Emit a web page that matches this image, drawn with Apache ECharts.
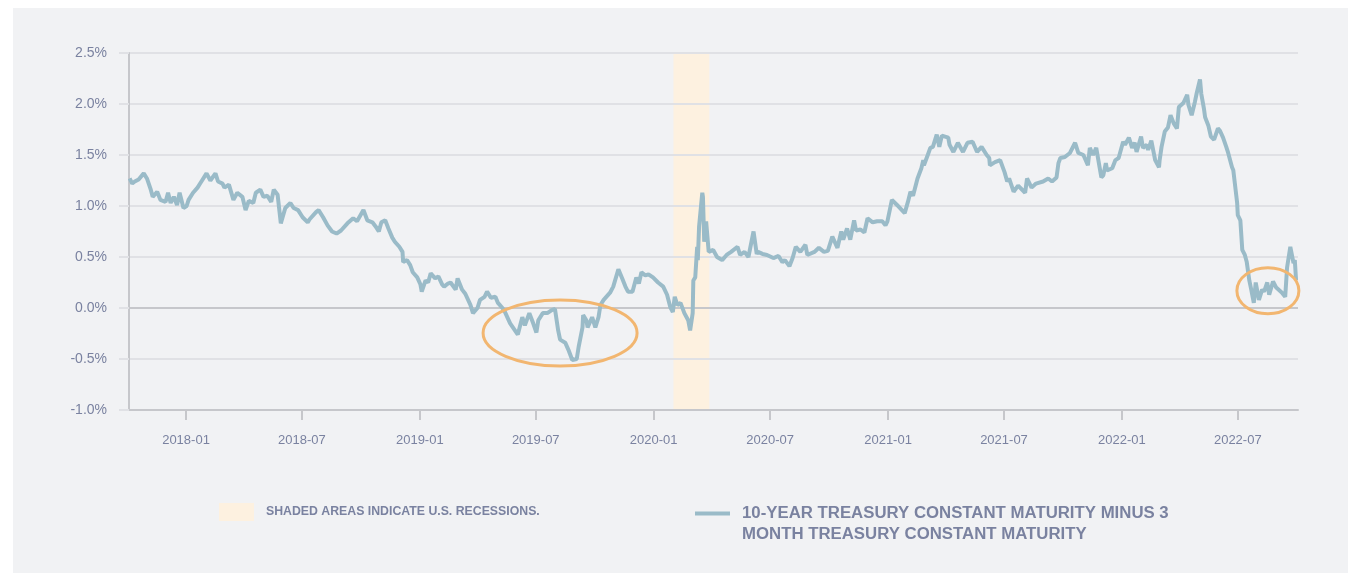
<!DOCTYPE html>
<html>
<head>
<meta charset="utf-8">
<script src="https://cdn.jsdelivr.net/npm/echarts@6/dist/echarts.min.js"></script>
<style>
html,body{margin:0;padding:0;background:#fff;}
#chart{position:absolute;left:13px;top:8px;width:1335px;height:565px;background:#f1f2f4;}
</style>
</head>
<body>
<div id="chart"></div>
<script>
// 10年期减3个月国债利差(%)
var seriesName='10-YEAR TREASURY CONSTANT MATURITY MINUS 3\nMONTH TREASURY CONSTANT MATURITY';
var recessionName='SHADED AREAS INDICATE U.S. RECESSIONS.';

var obsDates=[
 '2017-10-05','2017-10-09','2017-10-13','2017-10-19','2017-10-27','2017-11-01','2017-11-07','2017-11-10','2017-11-17','2017-11-22','2017-11-30','2017-12-04','2017-12-08','2017-12-13','2017-12-18','2017-12-22','2017-12-28',
 '2018-01-02','2018-01-05','2018-01-12','2018-01-19','2018-01-23','2018-01-26','2018-02-02','2018-02-08','2018-02-16','2018-02-20','2018-02-27','2018-03-02','2018-03-09','2018-03-16','2018-03-22','2018-03-30',
 '2018-04-04','2018-04-09','2018-04-16','2018-04-20','2018-04-27','2018-05-02','2018-05-08','2018-05-14','2018-05-18','2018-05-24','2018-05-29','2018-06-05','2018-06-13','2018-06-18','2018-06-25',
 '2018-07-02','2018-07-10','2018-07-13','2018-07-23','2018-07-27','2018-08-03','2018-08-10','2018-08-17','2018-08-24','2018-08-31','2018-09-10','2018-09-19','2018-09-25','2018-09-28',
 '2018-10-05','2018-10-11','2018-10-19','2018-10-24','2018-10-29','2018-11-02','2018-11-08','2018-11-13','2018-11-19','2018-11-23','2018-11-30','2018-12-05','2018-12-06','2018-12-12','2018-12-17','2018-12-21','2018-12-28',
 '2019-01-02','2019-01-04','2019-01-10','2019-01-14','2019-01-18','2019-01-25','2019-01-30','2019-02-05','2019-02-08','2019-02-14','2019-02-18','2019-02-26','2019-03-01','2019-03-08','2019-03-13','2019-03-21','2019-03-25',
 '2019-04-01','2019-04-05','2019-04-12','2019-04-16','2019-04-22','2019-04-29','2019-05-03','2019-05-10','2019-05-14','2019-05-22','2019-06-03','2019-06-10','2019-06-14','2019-06-21','2019-06-27',
 '2019-07-02','2019-07-05','2019-07-12','2019-07-19','2019-07-26','2019-07-31','2019-08-05','2019-08-08','2019-08-16','2019-08-21','2019-08-27','2019-09-03','2019-09-06','2019-09-12','2019-09-13','2019-09-18','2019-09-20','2019-09-27',
 '2019-10-02','2019-10-07','2019-10-10','2019-10-15','2019-10-25','2019-10-30','2019-11-07','2019-11-13','2019-11-18','2019-11-22','2019-11-29','2019-12-05','2019-12-09','2019-12-13','2019-12-19','2019-12-24','2019-12-31',
 '2020-01-08','2020-01-16','2020-01-22','2020-01-27','2020-01-31','2020-02-03','2020-02-07','2020-02-12','2020-02-18','2020-02-24','2020-02-27','2020-03-02','2020-03-03','2020-03-06','2020-03-09','2020-03-10','2020-03-12',
 '2020-03-17','2020-03-18','2020-03-20','2020-03-23','2020-03-25','2020-03-27','2020-04-03','2020-04-09','2020-04-17','2020-04-24','2020-05-01','2020-05-11','2020-05-15','2020-05-22','2020-05-28',
 '2020-06-05','2020-06-10','2020-06-12','2020-06-19','2020-06-26','2020-07-06','2020-07-14','2020-07-20','2020-07-24','2020-07-31','2020-08-05','2020-08-10','2020-08-17','2020-08-25','2020-08-28',
 '2020-09-08','2020-09-15','2020-09-23','2020-09-29','2020-10-06','2020-10-14','2020-10-20','2020-10-23','2020-10-29','2020-11-03','2020-11-09','2020-11-12','2020-11-19','2020-11-25','2020-11-30',
 '2020-12-08','2020-12-15','2020-12-23','2020-12-28','2020-12-31',
 '2021-01-07','2021-01-15','2021-01-27','2021-02-01','2021-02-05','2021-02-09','2021-02-16','2021-02-22','2021-02-25','2021-02-26','2021-03-04','2021-03-08','2021-03-12','2021-03-18','2021-03-22','2021-03-26',
 '2021-04-05','2021-04-07','2021-04-13','2021-04-20','2021-04-28','2021-05-05','2021-05-13','2021-05-20','2021-05-27','2021-06-04','2021-06-08','2021-06-09','2021-06-17','2021-06-25',
 '2021-07-02','2021-07-06','2021-07-09','2021-07-16','2021-07-23','2021-08-03','2021-08-06','2021-08-13','2021-08-20','2021-08-31','2021-09-08','2021-09-14','2021-09-21','2021-09-24','2021-09-27',
 '2021-10-04','2021-10-12','2021-10-20','2021-10-25','2021-11-02','2021-11-09','2021-11-12','2021-11-17','2021-11-22','2021-11-30','2021-12-03','2021-12-07','2021-12-09','2021-12-17','2021-12-22','2021-12-27',
 '2022-01-03','2022-01-06','2022-01-12','2022-01-17','2022-01-21','2022-01-24','2022-01-31','2022-02-03','2022-02-09','2022-02-11','2022-02-16','2022-02-22','2022-02-28','2022-03-01','2022-03-04','2022-03-09',
 '2022-03-14','2022-03-18','2022-03-23','2022-03-28','2022-03-31','2022-04-07','2022-04-13','2022-04-15','2022-04-20','2022-04-25','2022-04-28','2022-05-03','2022-05-05','2022-05-09','2022-05-11','2022-05-16',
 '2022-05-20','2022-05-25','2022-05-31','2022-06-03','2022-06-08','2022-06-13','2022-06-16','2022-06-22','2022-06-24','2022-06-27','2022-06-30',
 '2022-07-01','2022-07-05','2022-07-08','2022-07-12','2022-07-15','2022-07-19','2022-07-22','2022-07-26','2022-07-29','2022-08-03','2022-08-08','2022-08-11','2022-08-16','2022-08-19','2022-08-25','2022-08-30',
 '2022-09-02','2022-09-08','2022-09-13','2022-09-16','2022-09-21','2022-09-26','2022-09-28','2022-09-30'
];

var spreadPct=[
 1.27,1.22,1.24,1.26,1.32,1.27,1.16,1.09,1.14,1.06,1.04,1.13,1.03,1.09,1.01,1.13,0.98,
 1.00,1.06,1.13,1.18,1.22,1.25,1.32,1.25,1.32,1.24,1.22,1.18,1.21,1.06,1.13,1.09,
 0.96,1.05,1.03,1.13,1.16,1.09,1.10,1.04,1.16,1.11,0.83,0.98,1.03,0.98,0.96,
 0.89,0.84,0.87,0.94,0.96,0.89,0.81,0.75,0.73,0.76,0.83,0.88,0.85,0.84,
 0.96,0.86,0.84,0.80,0.75,0.84,0.86,0.78,0.69,0.65,0.60,0.55,0.45,0.47,0.42,0.35,0.30,
 0.23,0.16,0.27,0.25,0.34,0.29,0.31,0.23,0.21,0.24,0.25,0.18,0.29,0.18,0.14,0.03,-0.05,
 0.00,0.08,0.11,0.16,0.10,0.11,0.05,0.00,-0.04,-0.15,-0.26,-0.09,-0.17,-0.05,-0.15,
 -0.24,-0.12,-0.05,-0.05,-0.02,-0.01,-0.22,-0.31,-0.34,-0.41,-0.51,-0.50,-0.38,-0.19,-0.07,-0.12,-0.19,-0.09,
 -0.19,-0.09,0.03,0.08,0.15,0.21,0.38,0.29,0.21,0.16,0.16,0.30,0.24,0.35,0.32,0.33,0.30,
 0.25,0.21,0.13,0.01,-0.04,0.11,0.03,0.05,-0.05,-0.12,-0.22,-0.05,0.27,0.30,0.60,0.47,0.80,
 1.13,1.09,0.65,0.85,0.70,0.55,0.57,0.50,0.47,0.52,0.55,0.60,0.52,0.55,0.50,
 0.75,0.53,0.55,0.53,0.52,0.49,0.51,0.45,0.47,0.41,0.49,0.60,0.55,0.62,0.52,
 0.55,0.59,0.55,0.56,0.70,0.59,0.75,0.67,0.78,0.67,0.86,0.76,0.77,0.74,0.88,
 0.84,0.85,0.85,0.81,0.85,
 1.06,1.01,0.93,1.04,1.14,1.10,1.27,1.37,1.45,1.40,1.50,1.57,1.58,1.70,1.58,1.69,
 1.67,1.60,1.53,1.62,1.53,1.62,1.63,1.53,1.58,1.50,1.47,1.40,1.43,1.45,
 1.33,1.24,1.27,1.14,1.20,1.13,1.27,1.18,1.22,1.24,1.27,1.24,1.28,1.42,1.47,
 1.48,1.52,1.62,1.52,1.50,1.40,1.57,1.50,1.57,1.28,1.30,1.42,1.35,1.37,1.45,1.47,
 1.63,1.60,1.67,1.57,1.62,1.53,1.68,1.57,1.60,1.55,1.64,1.45,1.38,1.45,1.58,1.73,
 1.77,1.89,1.81,1.76,1.97,2.01,2.09,1.99,1.89,2.02,2.11,2.24,2.10,1.96,1.87,1.79,
 1.68,1.65,1.76,1.74,1.67,1.58,1.52,1.38,1.35,1.19,1.03,
 0.91,0.86,0.57,0.52,0.45,0.27,0.18,0.05,0.25,0.08,0.18,0.16,0.25,0.13,0.26,0.20,
 0.21,0.15,0.11,0.40,0.60,0.44,0.47,0.27
];

var tickMonths=['2018-01','2018-07','2019-01','2019-07','2020-01','2020-07','2021-01','2021-07','2022-01','2022-07'];
var recession=['2020-02-01','2020-03-28'];
// 图上橙色圈的位置(日期, 值)
var circledSpots=[['2019-08-08',-0.245],['2022-08-17',0.17]];

function toTime(s){
    var p=s.split('-');
    return new Date(+p[0],+p[1]-1,p[2]?+p[2]:1).getTime();
}

var textColor='#7a82a0';
var font="'Liberation Sans', Arial, sans-serif";
var lineData=obsDates.map(function(d,i){return [toTime(d),spreadPct[i]];});
var tickValues=tickMonths.map(toTime);

var myChart=echarts.init(document.getElementById('chart'));

var option={
    animation:false,
    textStyle:{fontFamily:font},
    grid:{left:116,right:50,top:45,bottom:163},
    xAxis:{
        type:'value',
        min:toTime('2017-10-04'),
        max:toTime('2022-10-03'),
        axisLine:{onZero:false,lineStyle:{color:'#c6c7cb',width:2}},
        axisTick:{show:true,length:10,customValues:tickValues,lineStyle:{color:'#c6c7cb',width:2}},
        axisLabel:{
            customValues:tickValues,
            color:textColor,
            fontSize:13,
            fontFamily:font,
            margin:24,
            formatter:function(v){return echarts.time.format(v,'{yyyy}-{MM}',false);}
        },
        splitLine:{show:false}
    },
    yAxis:{
        type:'value',
        min:-1,
        max:2.5,
        interval:0.5,
        axisLine:{show:true,lineStyle:{color:'#c6c7cb',width:2}},
        axisTick:{show:true,length:10,lineStyle:{color:'#e0e1e5',width:2}},
        axisLabel:{
            color:textColor,
            fontSize:14,
            fontFamily:font,
            margin:22,
            formatter:function(v){return v.toFixed(1)+'%';}
        },
        splitLine:{lineStyle:{color:['#e0e1e5','#e0e1e5','#c6c7cb','#e0e1e5','#e0e1e5','#e0e1e5','#e0e1e5','#e0e1e5'],width:2}}
    },
    legend:[{
        data:[recessionName],
        left:206,top:495,padding:0,
        icon:'rect',itemWidth:35,itemHeight:18,
        selectedMode:false,
        textStyle:{color:textColor,fontSize:12.3,fontWeight:'bold',fontFamily:font,padding:[0,0,0,7]}
    },{
        data:[seriesName],
        left:682,top:474,padding:0,
        icon:'rect',itemWidth:35,itemHeight:4,
        selectedMode:false,
        // 前面加一空行，让图标对齐第一行文字
        formatter:function(name){return ' \n'+name;},
        textStyle:{color:textColor,fontSize:16.8,fontWeight:'bold',fontFamily:font,lineHeight:21,padding:[0,0,0,7]}
    }],
    series:[{
        name:recessionName,
        type:'line',
        z:-1,
        data:[],
        color:'#fdf1e0',
        itemStyle:{color:'#fdf1e0'},
        markArea:{
            silent:true,
            z:-1,
            itemStyle:{color:'#fdf1e0'},
            data:[[{xAxis:toTime(recession[0])},{xAxis:toTime(recession[1])}]]
        }
    },{
        name:seriesName,
        type:'line',
        data:lineData,
        showSymbol:false,
        color:'#9abbc8',
        lineStyle:{color:'#9abbc8',width:4},
        itemStyle:{color:'#9abbc8'}
    }]
};

myChart.setOption(option);

// 画橙色椭圆标注
var radii=[[77,33],[31,23]];
var ellipses=circledSpots.map(function(s,i){
    var p=myChart.convertToPixel({xAxisIndex:0,yAxisIndex:0},[toTime(s[0]),s[1]]);
    return {
        type:'ellipse',
        shape:{cx:p[0],cy:p[1],rx:radii[i][0],ry:radii[i][1]},
        style:{fill:'none',stroke:'#f2b670',lineWidth:3},
        z:10
    };
});
myChart.setOption({graphic:ellipses});
</script>
</body>
</html>
